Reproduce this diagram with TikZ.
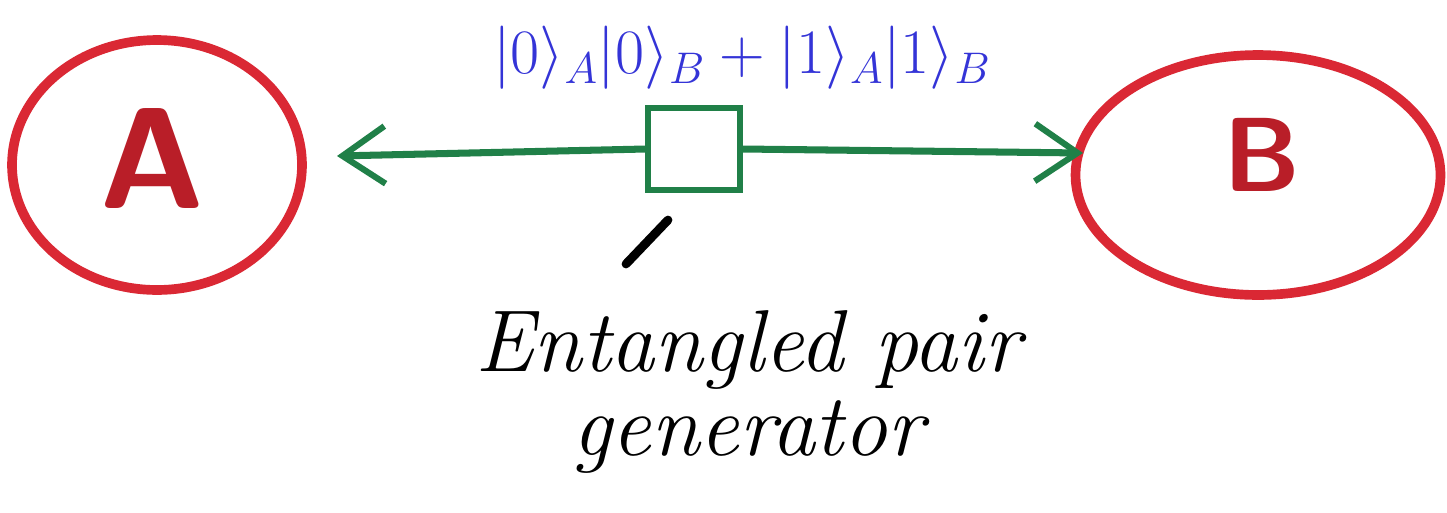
\documentclass[tikz,border=0pt]{standalone}
\usepackage{fix-cm}
\usepackage{amsmath, amssymb}
\usepackage{tikz}
\usetikzlibrary{shapes, arrows.meta, positioning, calc}
\definecolor{markerred}{RGB}{218, 40, 52}
\definecolor{darkred}{RGB}{185, 30, 40}
\definecolor{markergreen}{RGB}{32, 128, 72}
\definecolor{markerblue}{RGB}{52, 52, 215}
\tikzset{
  flowarrow/.style={-{Straight Barb[length=0.85cm, width=1.15cm, line width=3.5pt]}, line width=4pt, markergreen},
  partyring/.style={draw=markerred, line width=5.5pt, ellipse, inner sep=0pt},
  pointer/.style={line width=5pt, black, line cap=round}
}

\begin{document}
\begin{tikzpicture}[x=0.02cm, y=-0.02cm]
    \useasboundingbox (0,0) rectangle (1447,512);
    \node (A) [partyring, minimum width=5.8cm, minimum height=5cm] at (157,165) {};
    \node (B) [partyring, minimum width=7.3cm, minimum height=4.8cm] at (1258,175) {};
    \node (labA) [darkred, font=\fontsize{82}{82}\sffamily\bfseries\selectfont] at (152,158) {A};
    \node (labB) [darkred, font=\fontsize{60}{60}\sffamily\bfseries\selectfont] at (1262,155) {B};
    \node (gen) [draw=markergreen, line width=3pt, minimum width=1.84cm, minimum height=1.64cm, inner sep=0pt] at (694,149) {};
    \node (state) [markerblue, font=\fontsize{36}{40}\selectfont] at (742,58) {$|0\rangle_A|0\rangle_B + |1\rangle_A|1\rangle_B$};
    \node (desc) [align=center, font=\fontsize{50}{48}\itshape\selectfont] at (748,392) {Entangled pair\\generator};
    \coordinate (tipA) at (337,156);
    \coordinate (tipB) at (1083,153);
    \coordinate (ptrtail) at (626,264);
    \coordinate (ptrhead) at (668,220);

    \draw[flowarrow] (gen.west) -- (tipA);
    \draw[flowarrow] (gen.east) -- (tipB);
    \draw[pointer] (ptrtail) -- (ptrhead);
\end{tikzpicture}
\end{document}
